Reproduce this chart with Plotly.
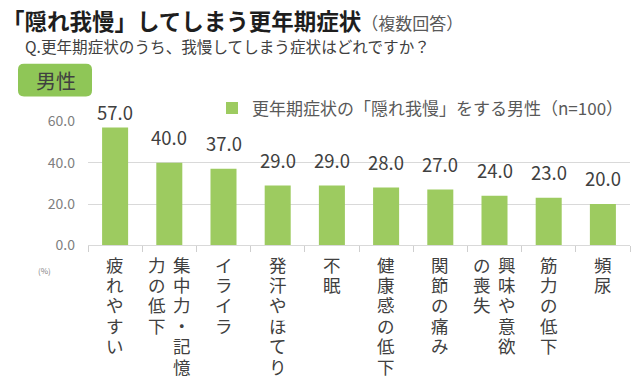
import plotly.graph_objects as go

categories = ["疲れやすい", "集中力・記憶力の低下", "イライラ", "発汗やほてり", "不眠",
              "健康感の低下", "関節の痛み", "興味や意欲の喪失", "筋力の低下", "頻尿"]
values = [57.0, 40.0, 37.0, 29.0, 29.0, 28.0, 27.0, 24.0, 23.0, 20.0]
# vertical label columns (right-to-left order in vertical writing)
label_columns = [
    ["疲れやすい"],
    ["集中力・記憶", "力の低下"],
    ["イライラ"],
    ["発汗やほてり"],
    ["不眠"],
    ["健康感の低下"],
    ["関節の痛み"],
    ["興味や意欲", "の喪失"],
    ["筋力の低下"],
    ["頻尿"],
]
y_ticks = [0, 20, 40, 60]
series_name = "更年期症状の「隠れ我慢」をする男性（n=100）"

W, H = 640, 390
FONT = "Noto Sans CJK JP"
BAR = "#9DCB60"
BOX = "#8FC657"
DARK = "#404040"
GRAY = "#595959"

# the photographed page maps figure y to picture y as  Y = OFF + SC * y
OFF, SC = 8.9, 0.9556


def px(x):
    return x / W


def py(Y):
    """paper y for a target picture y (pixels from top)."""
    return 1 - ((Y - OFF) / SC) / H


fig = go.Figure()
fig.add_trace(go.Bar(
    x=categories, y=values, name=series_name,
    marker=dict(color=BAR, line=dict(width=0)),
))

# y pixel scale of the plot in picture coordinates
Y0, Y60 = 245, 120
unit = (Y0 - Y60) / 60.0
TOP_LIMIT = 111  # highest label centre

annotations = []
for c, v in zip(categories, values):
    bar_top = Y0 - v * unit
    centre = max(bar_top - 24.5, TOP_LIMIT)
    annotations.append(dict(
        x=c, y=v, xref="x", yref="y", text=f"{v:.1f}", showarrow=False,
        xanchor="center", yanchor="middle", yshift=(bar_top - centre) / SC,
        font=dict(size=18.5, color=DARK, family=FONT),
    ))

# vertical category labels, one character per annotation
STEP = 20.5
TOP = 264
for i, cols in enumerate(label_columns):
    n = len(cols)
    for j, col in enumerate(cols):
        offset = (n - 1) / 2 * 25 - j * 25
        for k, ch in enumerate(col):
            annotations.append(dict(
                x=categories[i], xref="x", xshift=offset,
                y=py(TOP + k * STEP), yref="paper", yanchor="middle", xanchor="center",
                text=ch, showarrow=False,
                font=dict(size=17.5, color=DARK, family=FONT),
            ))

# titles
annotations.append(dict(
    x=px(0), y=py(18), xref="paper", yref="paper", xanchor="left", yanchor="middle",
    text="<b>「隠れ我慢」してしまう更年期症状</b><span style='font-size:17px;color:#595959'>（複数回答）</span>",
    showarrow=False, font=dict(size=22.5, color="#1e1e1e", family=FONT),
))
annotations.append(dict(
    x=px(23), y=py(44), xref="paper", yref="paper", xanchor="left", yanchor="middle",
    text="Q.更年期症状のうち、我慢してしまう症状はどれですか？",
    showarrow=False, font=dict(size=15.6, color=DARK, family=FONT),
))
annotations.append(dict(
    x=px(55.5), y=py(79), xref="paper", yref="paper", xanchor="center", yanchor="middle",
    text="男性", showarrow=False, font=dict(size=20, color=DARK, family=FONT),
))
annotations.append(dict(
    x=px(44), y=py(270), xref="paper", yref="paper", xanchor="center", yanchor="middle",
    text="(%)", showarrow=False, font=dict(size=8, color="#7f7f7f", family=FONT),
))

# rounded green box
x0, x1, y0, y1, r = 18, 92, 62, 95, 6
rr = r * SC
path = (f"M {px(x0+r)} {py(y0)} L {px(x1-r)} {py(y0)} Q {px(x1)} {py(y0)} {px(x1)} {py(y0+rr)} "
        f"L {px(x1)} {py(y1-rr)} Q {px(x1)} {py(y1)} {px(x1-r)} {py(y1)} "
        f"L {px(x0+r)} {py(y1)} Q {px(x0)} {py(y1)} {px(x0)} {py(y1-rr)} "
        f"L {px(x0)} {py(y0+rr)} Q {px(x0)} {py(y0)} {px(x0+r)} {py(y0)} Z")

fig.update_layout(
    width=W, height=H, autosize=False,
    margin=dict(l=0, r=0, t=0, b=0),
    paper_bgcolor="white", plot_bgcolor="white",
    font=dict(family=FONT, color=GRAY),
    bargap=0.52,
    showlegend=True,
    legend=dict(x=px(212), y=py(107), xanchor="left", yanchor="middle",
                orientation="h", font=dict(size=17, color=GRAY, family=FONT),
                bgcolor="rgba(0,0,0,0)", itemwidth=30),
    xaxis=dict(domain=[px(88), px(630)], showticklabels=False,
               tickson="boundaries", ticks="outside", ticklen=6, tickcolor="#cfcfcf",
               showline=True, linecolor="#d9d9d9", linewidth=1, showgrid=False),
    yaxis=dict(domain=[py(Y0), py(Y60)], range=[0, 60], tickvals=y_ticks,
               tickformat=".1f", showgrid=True, gridcolor="#d9d9d9", gridwidth=1,
               zeroline=False, showline=False, ticks="", ticklabelstandoff=12,
               tickfont=dict(size=14, color="#7f7f7f", family=FONT)),
    annotations=annotations,
    shapes=[dict(type="path", path=path, xref="paper", yref="paper",
                 fillcolor=BOX, line=dict(width=0), layer="below")],
)

fig.write_html(
    "out.html",
    config={"displayModeBar": False},
    post_script="document.body.style.margin='0';document.body.style.padding='0';"
                "document.documentElement.style.overflow='hidden';",
)
